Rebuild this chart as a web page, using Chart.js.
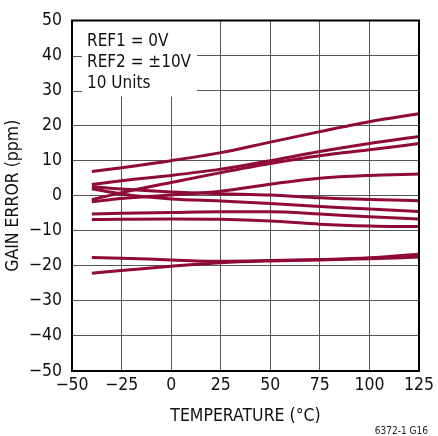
<!DOCTYPE html>
<html>
<head>
<meta charset="utf-8">
<script src="https://cdn.jsdelivr.net/npm/chart.js@4"></script>
<style>
  html, body { margin: 0; padding: 0; background: #fff; }
  #wrap { width: 438px; height: 436px; position: relative; }
</style>
</head>
<body>
<div id="wrap"><canvas id="chart" width="438" height="436"></canvas></div>
<script>
// --- data ---
const TEMPS = [-40, -25, 0, 25, 50, 75, 100, 125];
const UNIT_1 = [6.9, 8.0, 10.0, 12.3, 15.3, 18.3, 21.1, 23.4];
const UNIT_2 = [3.2, 4.3, 5.8, 7.6, 10.0, 12.6, 14.9, 16.9];
const UNIT_3 = [-1.1, 0.9, 3.8, 6.6, 9.2, 11.4, 13.1, 14.9];
const UNIT_4 = [-1.7, -0.8, 0.2, 1.3, 3.3, 5.0, 5.8, 6.2];
const UNIT_5 = [2.6, 1.9, 1.1, 0.6, 0.2, -0.6, -1.1, -1.4];
const UNIT_6 = [2.0, 0.5, -0.9, -1.5, -2.2, -3.1, -3.8, -4.5];
const UNIT_7 = [-5.2, -5.0, -4.8, -4.6, -4.6, -5.2, -6.0, -6.6];
const UNIT_8 = [-6.8, -6.7, -6.6, -6.7, -7.2, -8.1, -8.6, -8.8];
const UNIT_9 = [-17.6, -17.8, -18.3, -18.7, -18.5, -18.2, -17.7, -16.7];
const UNIT_10 = [-22.1, -21.3, -20.1, -19.1, -18.6, -18.3, -18.0, -17.5];
const ALL_UNITS = [UNIT_1, UNIT_2, UNIT_3, UNIT_4, UNIT_5, UNIT_6, UNIT_7, UNIT_8, UNIT_9, UNIT_10];

const NOTE_LINES = ['REF1 = 0V', 'REF2 = \u00B110V', '10 Units'];
const FIGURE_ID = '6372-1 G16';

// --- style constants ---
const LINE_COLOR = '#8F0B35';
const GRID_COLOR = '#555';
const FONT_FAMILY = "'DejaVu Sans Condensed', 'Liberation Sans', sans-serif";
const TICK_FONT = { family: FONT_FAMILY, size: 17.5 };

const minusSign = v => (v < 0 ? '\u2212' + Math.abs(v) : String(v));

// white note box, frame and figure id
const decorPlugin = {
    id: 'decor',
    beforeDatasetsDraw(chart) {
        const { ctx, chartArea } = chart;
        const y = chart.scales.y;
        ctx.save();
        ctx.fillStyle = '#fff';
        ctx.fillRect(chartArea.left, chartArea.top, 125, 76);
        // little inner tick stubs that the box does not hide
        ctx.strokeStyle = GRID_COLOR;
        ctx.lineWidth = 1;
        [40, 30].forEach(v => {
            const py = Math.round(y.getPixelForValue(v)) + 0.5;
            ctx.beginPath();
            ctx.moveTo(chartArea.left, py);
            ctx.lineTo(chartArea.left + 10, py);
            ctx.stroke();
        });
        ctx.fillStyle = '#111';
        ctx.font = `17px ${FONT_FAMILY}`;
        ctx.textBaseline = 'middle';
        ctx.textAlign = 'left';
        NOTE_LINES.forEach((t, i) => {
            ctx.fillText(t, chartArea.left + 15, chartArea.top + 21 + i * 21);
        });
        ctx.restore();
    },
    afterDatasetsDraw(chart) {
        const { ctx, chartArea } = chart;
        ctx.save();
        ctx.strokeStyle = '#000';
        ctx.lineWidth = 2;
        ctx.strokeRect(chartArea.left, chartArea.top, chartArea.right - chartArea.left, chartArea.bottom - chartArea.top);
        ctx.fillStyle = '#222';
        ctx.font = `10px ${FONT_FAMILY}`;
        ctx.textAlign = 'right';
        ctx.textBaseline = 'bottom';
        ctx.fillText(FIGURE_ID, 428, 436);
        ctx.restore();
    }
};

const ctx = document.getElementById('chart').getContext('2d');
new Chart(ctx, {
    type: 'line',
    data: {
        datasets: ALL_UNITS.map((vals, i) => ({
            label: 'Unit ' + (i + 1),
            data: TEMPS.map((t, k) => ({ x: t, y: vals[k] })),
            borderColor: LINE_COLOR,
            borderWidth: 3,
            pointRadius: 0,
            cubicInterpolationMode: 'monotone',
            fill: false
        }))
    },
    options: {
        responsive: false,
        animation: false,
        events: [],
        layout: { padding: { top: 19, right: 14, bottom: 0, left: 0 } },
        scales: {
            x: {
                type: 'linear',
                min: -50,
                max: 125,
                afterFit(scale) { scale.height = 65; },
                grid: { color: GRID_COLOR, lineWidth: 1, drawTicks: false },
                border: { display: false },
                ticks: {
                    stepSize: 25,
                    color: '#111',
                    font: TICK_FONT,
                    padding: 4,
                    maxRotation: 0,
                    callback: v => minusSign(v)
                },
                title: {
                    display: true,
                    text: 'TEMPERATURE (\u00B0C)',
                    color: '#111',
                    font: TICK_FONT,
                    padding: { top: 0, bottom: 9 }
                }
            },
            y: {
                min: -50,
                max: 50,
                afterFit(scale) { scale.width = 72; },
                grid: { color: GRID_COLOR, lineWidth: 1, drawTicks: false },
                border: { display: false },
                ticks: {
                    stepSize: 10,
                    color: '#111',
                    font: TICK_FONT,
                    padding: 10,
                    callback: v => minusSign(v)
                },
                title: {
                    display: true,
                    text: 'GAIN ERROR (ppm)',
                    color: '#111',
                    font: TICK_FONT,
                    padding: { top: 3, bottom: 0 }
                }
            }
        },
        plugins: {
            legend: { display: false },
            tooltip: { enabled: false }
        }
    },
    plugins: [decorPlugin]
});
</script>
</body>
</html>
